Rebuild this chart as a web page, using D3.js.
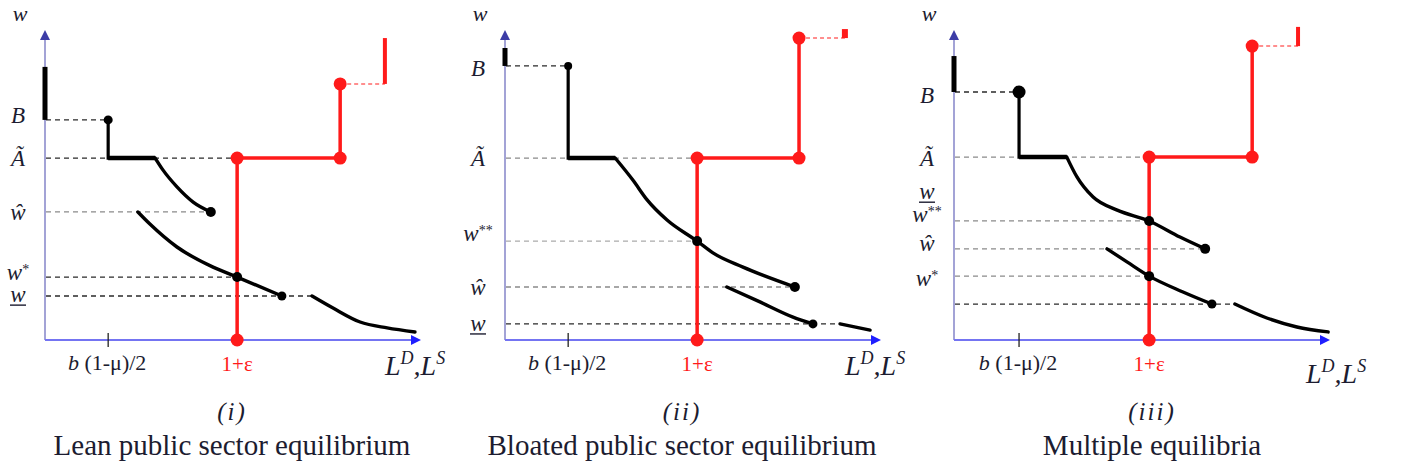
<!DOCTYPE html>
<html lang="en">
<head>
<meta charset="UTF-8">
<title>Labour market equilibria</title>
<script src="https://d3js.org/d3.v7.min.js"></script>
<style>
  body { margin: 0; background: #fff; }
  svg text { font-family: "Liberation Serif", "DejaVu Serif", serif; fill: #1c1c30; }
</style>
</head>
<body>
<svg width="1406" height="469"></svg>
<script>
// ---- data (units: 0..10 on both axes of every panel) ----
const subLabels = ["(i)", "(ii)", "(iii)"];
const titles = ["Lean public sector equilibrium", "Bloated public sector equilibrium", "Multiple equilibria"];

const xTick    = [1.68, 1.68, 1.73];   // b(1-mu)/2
const xEps     = [5.11, 5.11, 5.19];   // 1+eps
const xPlateau = [2.93, 2.93, 3.00];
const yB       = [7.10, 8.84, 8.00];
const yA       = [5.87, 5.87, 5.90];
const yAxisBarTop = [8.81, 9.42, 9.16];
const xStep    = [7.85, 7.82, 7.93];
const yStep    = [8.26, 9.74, 9.48];
const xRedBar  = [9.04, 9.04, 9.15];
const yRedBarTop = [9.74, 10.03, 10.10];

const demandUpper = [
  [[2.93,5.87],[3.14,5.48],[3.51,4.94],[3.94,4.45],[4.41,4.13]],
  [[2.93,5.87],[3.40,5.16],[3.78,4.52],[4.31,3.87],[5.11,3.19],[5.53,2.81],[6.33,2.35],[7.71,1.71]],
  [[3.00,5.90],[3.27,5.26],[3.70,4.61],[4.34,4.19],[5.19,3.84],[6.01,3.32],[6.68,2.94]]
];
const demandMiddle = [
  [[2.47,4.13],[2.79,3.74],[3.51,3.00],[4.47,2.35],[5.11,2.03],[6.30,1.42]],
  [[5.90,1.71],[6.78,1.23],[7.66,0.74],[8.19,0.52]],
  [[4.07,2.94],[4.60,2.52],[5.19,2.06],[6.09,1.55],[6.86,1.16]]
];
const demandLower = [
  [[7.10,1.42],[7.66,1.03],[8.38,0.58],[9.10,0.39],[9.84,0.26]],
  [[8.91,0.52],[9.71,0.32]],
  [[7.47,1.16],[8.32,0.71],[9.12,0.42],[9.95,0.26]]
];
// equilibrium points on the 1+eps line
const equilibria = [[2.03], [3.19], [3.84, 2.06]];

// guide lines: [label, y, x end, tone, label y]
const guides = [
  [["B",7.10,1.68,"k",7.26], ["A~",5.87,5.11,"k",5.87], ["w^",4.13,4.41,"g",4.13], ["w*",2.03,5.11,"k",2.19], ["w_",1.42,7.10,"k",1.48]],
  [["B",8.84,1.68,"k",8.77], ["A~",5.87,5.11,"g",5.87], ["w**",3.19,5.11,"lg",3.45], ["w^",1.71,7.71,"g",1.71], ["w_",0.52,8.91,"k",0.55]],
  [["B",8.00,1.73,"k",7.90], ["A~",5.90,5.19,"g",5.87], ["w_",null,null,"k",4.80], ["w**",3.84,5.19,"g",4.06], ["w^",2.94,6.68,"g",3.13], ["w*",2.06,5.19,"g",2.00], ["",1.16,7.47,"k",null]]
];

// ---- layout ----
const origins = [45, 505, 954];
const centers = [232, 682, 1152];
const bDotR = [4.5, 4, 6.5];
const lLabelDx = [340, 340, 352];
const lLabelY = [375, 375, 383];
const toneColor = { k: "#2a2a2a", g: "#8a8a8a", lg: "#ababab" };
const RED = "#ff1a1a";

const svg = d3.select("svg");

origins.forEach((ox, i) => {
  const x = d3.scaleLinear().domain([0, 10]).range([ox, ox + 376]);
  const y = d3.scaleLinear().domain([0, 10]).range([340, 30]);
  const g = svg.append("g");
  const line = d3.line().x(d => x(d[0])).y(d => y(d[1]));
  const curve = d3.line().x(d => x(d[0])).y(d => y(d[1])).curve(d3.curveMonotoneX);

  // axes
  g.append("line").attr("x1", x(0)).attr("x2", x(0)).attr("y1", y(0)).attr("y2", y(10) + 8)
    .attr("stroke", "#a3a3d6").attr("stroke-width", 2);
  g.append("path").attr("d", `M${x(0)},${y(10)} L${x(0) - 5},${y(10) + 10} L${x(0) + 5},${y(10) + 10}Z`)
    .attr("fill", "#3c3ca6");
  g.append("line").attr("x1", x(0)).attr("x2", x(10) - 8).attr("y1", y(0)).attr("y2", y(0))
    .attr("stroke", "#7474f2").attr("stroke-width", 2);
  g.append("path").attr("d", `M${x(10)},${y(0)} L${x(10) - 10},${y(0) - 5} L${x(10) - 10},${y(0) + 5}Z`)
    .attr("fill", "#1f1fff");

  // tick at b(1-mu)/2
  g.append("line").attr("x1", x(xTick[i])).attr("x2", x(xTick[i])).attr("y1", y(0) - 7).attr("y2", y(0) + 7)
    .attr("stroke", "#222").attr("stroke-width", 1.3);

  // guide lines + labels
  guides[i].forEach(([lab, gy, gx, tone, ly]) => {
    if (gy !== null) {
      g.append("line").attr("x1", x(0) + 1).attr("x2", x(gx)).attr("y1", y(gy)).attr("y2", y(gy))
        .attr("stroke", toneColor[tone]).attr("stroke-width", 1.3).attr("stroke-dasharray", "5,4");
    }
    if (!lab) return;
    const lx = ox - 27, yy = y(ly);
    const t = g.append("text").attr("x", lx).attr("y", yy).attr("dy", "0.35em")
      .attr("text-anchor", "middle").attr("font-size", 23).attr("font-style", "italic");
    if (lab === "B") t.text("B");
    else if (lab === "A~") t.text("Ã");
    else if (lab === "w^") t.text("ŵ");
    else if (lab === "w_") {
      t.text("w");
      g.append("line").attr("x1", lx - 8).attr("x2", lx + 8).attr("y1", yy + 11).attr("y2", yy + 11)
        .attr("stroke", "#1c1c30").attr("stroke-width", 1.4);
    } else {
      t.text("w");
      t.append("tspan").attr("dy", "-0.45em").attr("font-size", 14).attr("font-style", "normal")
        .text(lab.slice(1));
    }
  });

  // black thick segment on the axis above B
  g.append("line").attr("x1", x(0)).attr("x2", x(0)).attr("y1", y(yB[i])).attr("y2", y(yAxisBarTop[i]))
    .attr("stroke", "#000").attr("stroke-width", 5);

  // demand: vertical at b(1-mu)/2, plateau at A~
  g.append("path").datum([[xTick[i], yB[i]], [xTick[i], yA[i]], [xPlateau[i], yA[i]]])
    .attr("d", line).attr("fill", "none").attr("stroke", "#000").attr("stroke-width", 3.2);
  g.append("line").attr("x1", x(xTick[i])).attr("x2", x(xPlateau[i])).attr("y1", y(yA[i])).attr("y2", y(yA[i]))
    .attr("stroke", "#000").attr("stroke-width", 4.5);

  [demandUpper[i], demandMiddle[i], demandLower[i]].forEach(seg => {
    g.append("path").datum(seg).attr("d", curve).attr("fill", "none")
      .attr("stroke", "#000").attr("stroke-width", 3.4).attr("stroke-linecap", "round");
  });

  // supply (red)
  g.append("path").datum([[xEps[i], 0], [xEps[i], yA[i]], [xStep[i], yA[i]], [xStep[i], yStep[i]]])
    .attr("d", line).attr("fill", "none").attr("stroke", RED).attr("stroke-width", 3.5);
  g.append("line").attr("x1", x(xStep[i])).attr("x2", x(xRedBar[i])).attr("y1", y(yStep[i])).attr("y2", y(yStep[i]))
    .attr("stroke", "#ff6a6a").attr("stroke-width", 1.5).attr("stroke-dasharray", "4,3");
  g.append("line").attr("x1", x(xRedBar[i])).attr("x2", x(xRedBar[i])).attr("y1", y(yStep[i])).attr("y2", y(yRedBarTop[i]))
    .attr("stroke", RED).attr("stroke-width", i === 1 ? 6 : 4);

  // dots
  const dots = [
    [xEps[i], 0, RED, 6.5], [xEps[i], yA[i], RED, 6.5], [xStep[i], yA[i], RED, 6.5], [xStep[i], yStep[i], RED, 6.5],
    [xTick[i], yB[i], "#000", bDotR[i]]
  ];
  const endU = demandUpper[i][demandUpper[i].length - 1];
  const endM = demandMiddle[i][demandMiddle[i].length - 1];
  dots.push([endU[0], endU[1], "#000", 5], [endM[0], endM[1], "#000", 4.5]);
  equilibria[i].forEach(e => dots.push([xEps[i], e, "#000", 5]));
  g.selectAll("circle.dot").data(dots).enter().append("circle")
    .attr("cx", d => x(d[0])).attr("cy", d => y(d[1])).attr("r", d => d[3]).attr("fill", d => d[2]);

  // text
  g.append("text").attr("x", ox - 25).attr("y", 21).attr("text-anchor", "middle")
    .attr("font-size", 22).attr("font-style", "italic").text("w");

  const bt = g.append("text").attr("x", x(xTick[i]) - 1).attr("y", 370).attr("text-anchor", "middle").attr("font-size", 22);
  bt.append("tspan").attr("font-style", "italic").text("b");
  bt.append("tspan").text(" (1-μ)/2");

  g.append("text").attr("x", x(xEps[i])).attr("y", 371).attr("text-anchor", "middle")
    .attr("font-size", 21).style("fill", RED).text("1+ε");

  const lt = g.append("text").attr("x", ox + lLabelDx[i]).attr("y", lLabelY[i]).attr("font-size", 28).attr("font-style", "italic");
  lt.append("tspan").text("L");
  lt.append("tspan").attr("font-size", 18).attr("dy", -11).text("D");
  lt.append("tspan").attr("dy", 11).text(",L");
  lt.append("tspan").attr("font-size", 18).attr("dy", -11).text("S");

  g.append("text").attr("x", centers[i]).attr("y", 420).attr("text-anchor", "middle")
    .attr("font-size", 25).attr("font-style", "italic").attr("letter-spacing", 2).text(subLabels[i]);
  g.append("text").attr("x", centers[i]).attr("y", 455).attr("text-anchor", "middle")
    .attr("font-size", 29).text(titles[i]);
});
</script>
</body>
</html>
